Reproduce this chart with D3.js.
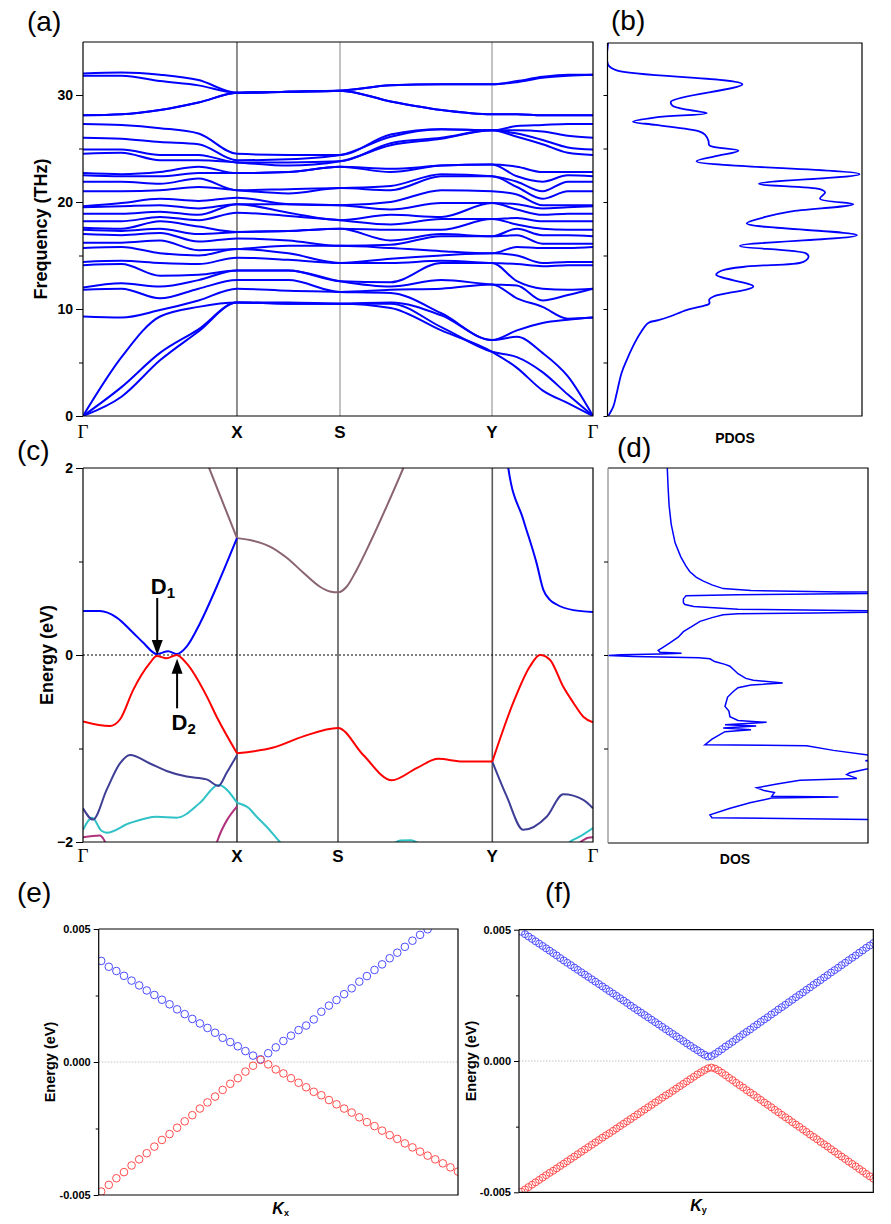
<!DOCTYPE html>
<html>
<head>
<meta charset="utf-8">
<script src="https://cdn.jsdelivr.net/npm/d3@7"></script>
<style>
  body { margin: 0; background: #fff; }
  svg { display: block; }
</style>
</head>
<body>
<script>
// ---------- data ----------
var symLabels = ["Γ", "X", "S", "Y", "Γ"];
var symK_ph = [0, 1, 1.669, 2.656, 3.312];   // phonon path
var symK_el = [0, 1, 1.656, 2.658, 3.312];   // electron path

// phonon frequencies (THz), band-sorted, sampled at phK
var phK = [0, 0.25, 0.5, 0.75, 1, 1.334, 1.669, 1.998, 2.327, 2.656, 2.818, 2.984, 3.149, 3.312];
var freqG   = [0,0,0,9.3,11.8,12.0,14.1,14.4,15.7,16.2,17.0,17.4,17.6,18.2,18.9,19.5,19.6,21.0,21.9,22.5,22.7,24.5,24.9,26.0,27.3,28.1,28.1,31.8,32.0];
var freqGX1 = [1.8,2.7,5.5,9.2,11.9,12.4,14.2,14.5,15.8,16.2,16.9,17.3,17.5,18.2,18.9,19.6,19.9,21.0,21.9,22.4,22.6,24.6,24.9,25.9,27.2,28.2,28.2,31.8,32.1];
var freqGX2 = [5.2,5.9,9.3,9.9,11.0,12.1,13.1,14.3,15.2,16.4,17.1,17.5,18.2,18.6,19.1,19.7,20.3,21.1,21.7,22.4,22.8,23.9,24.4,25.6,26.9,28.6,28.6,31.3,31.9];
var freqGX3 = [7.9,8.1,10.2,10.8,11.9,12.7,13.2,14.2,15.0,15.5,16.3,17.0,17.7,18.3,18.8,19.4,20.1,21.4,22.2,22.7,23.3,23.9,24.4,25.4,26.4,29.3,29.3,30.9,31.4];
var freqX   = [10.6,10.6,10.6,11.9,12.7,13.6,13.6,14.8,15.6,15.6,16.6,17.2,17.2,19.0,19.8,19.8,20.4,21.1,21.1,22.7,22.7,23.7,23.7,23.9,24.5,30.2,30.2,30.2,30.2];
var freqXS  = [10.5,10.5,10.6,11.7,12.7,13.6,13.6,14.6,15.2,15.9,16.4,17.3,17.3,18.7,19.0,19.8,19.8,20.8,21.2,22.8,22.8,23.4,23.7,24.0,24.4,30.3,30.3,30.3,30.3];
var freqS   = [10.5,10.5,10.5,11.6,11.6,12.6,12.6,14.3,14.3,15.9,15.9,17.5,17.5,18.3,18.3,19.7,19.7,21.3,21.3,23.3,23.3,23.8,23.8,24.4,24.4,30.4,30.4,30.4,30.4];
var freqSY1 = [10.1,10.5,10.6,11.5,11.8,12.1,12.5,14.3,14.7,15.7,16.0,16.4,17.4,17.9,18.8,19.3,20.0,21.1,21.5,22.8,23.1,25.3,25.5,26.1,26.3,29.4,29.4,30.9,30.9];
var freqSY2 = [8.0,8.3,9.4,9.6,11.9,12.7,14.3,14.5,15.0,15.4,16.8,17.0,17.4,18.4,18.6,19.9,21.1,22.4,22.6,23.4,23.4,25.9,26.0,26.8,26.8,28.6,28.6,31.0,31.0];
var freqY   = [6.0,6.0,7.1,7.1,12.3,12.3,14.3,14.3,15.2,15.2,16.8,16.8,18.4,18.4,19.9,19.9,21.0,22.4,22.4,23.5,23.5,26.7,26.7,26.7,26.7,28.2,28.2,31.0,31.0];
var freqYG1 = [4.5,5.5,7.4,8.0,11.0,12.2,12.6,14.2,15.0,15.8,16.9,17.5,17.9,18.5,19.3,19.8,20.7,21.4,21.9,22.4,23.3,26.1,26.4,26.7,27.1,28.2,28.2,31.2,31.3];
var freqYG2 = [2.4,4.1,5.9,8.7,10.2,10.8,11.9,14.0,14.3,15.7,16.1,16.9,17.5,18.2,18.8,19.4,19.7,20.3,21.0,21.9,22.8,25.4,25.8,26.6,27.2,28.1,28.1,31.6,31.7];
var freqYG3 = [1.2,2.0,3.7,9.0,9.1,11.3,11.8,14.1,14.4,15.7,16.1,16.9,17.4,18.2,18.9,19.5,19.7,21.0,21.9,22.5,22.8,24.6,25.1,26.2,27.3,28.1,28.1,31.8,31.9];
var freqG2  = [0,0,0,9.2,9.2,11.9,11.9,14.1,14.4,15.8,16.1,16.8,17.4,18.2,18.9,19.6,19.7,21.0,21.9,22.4,22.8,24.4,24.9,26.0,27.3,28.1,28.1,31.9,31.9];

// phonon DOS (b)
var pdosFreq = [0,0.9,2.1,4.0,5.2,6.5,7.7,8.7,8.95,9.3,9.9,10.2,10.5,10.9,11.2,12.1,13.2,13.6,14.0,14.4,14.9,15.2,15.9,16.9,18.0,18.6,19.1,19.8,20.3,20.9,21.2,21.7,22.6,23.8,24.3,24.8,25.3,25.7,26.3,26.6,27.2,27.5,27.9,28.3,28.6,29.0,29.4,31.0,32.3,32.8,35];
var pdosVal  = [0.003,0.023,0.036,0.055,0.075,0.10,0.128,0.16,0.20,0.245,0.31,0.36,0.40,0.40,0.42,0.573,0.427,0.45,0.56,0.77,0.79,0.78,0.52,0.98,0.547,0.62,0.717,0.966,0.835,0.855,0.835,0.595,0.99,0.35,0.43,0.514,0.40,0.397,0.383,0.36,0.19,0.10,0.19,0.39,0.32,0.255,0.25,0.53,0.036,0.003,0.003];

// electronic bands (c): k along path, energy in eV
var cbGX_k = [0, 0.11, 0.219, 0.327, 0.392, 0.479, 0.554, 0.608, 0.673, 0.760, 0.868, 1.0];
var cbGX_e = [0.47, 0.47, 0.40, 0.235, 0.13, 0.01, 0.04, 0.01, 0.09, 0.34, 0.73, 1.25];
var cbYG_k = [2.74, 2.762, 2.859, 2.946, 2.989, 3.032, 3.076, 3.184, 3.312];
var cbYG_e = [2.3, 2.0, 1.45, 0.98, 0.70, 0.59, 0.54, 0.48, 0.46];
var c2GX_k = [0.79, 1.0];
var c2GX_e = [2.12, 1.25];
var c2XSY_k = [1.0, 1.084, 1.214, 1.323, 1.431, 1.539, 1.604, 1.656, 1.712, 1.777, 1.864, 1.972, 2.08, 2.10];
var c2XSY_e = [1.25, 1.23, 1.16, 1.04, 0.88, 0.73, 0.68, 0.67, 0.73, 0.91, 1.20, 1.59, 2.0, 2.08];
var vbGX_k = [0, 0.175, 0.24, 0.327, 0.435, 0.479, 0.543, 0.608, 0.673, 0.803, 0.868, 1.0];
var vbGX_e = [-0.71, -0.76, -0.69, -0.37, -0.085, -0.01, -0.035, 0.0, -0.09, -0.44, -0.66, -1.05];
var vbXSY_k = [1.0, 1.236, 1.431, 1.656, 1.82, 2.005, 2.167, 2.307, 2.469, 2.658];
var vbXSY_e = [-1.05, -0.99, -0.87, -0.78, -1.07, -1.34, -1.21, -1.11, -1.14, -1.14];
var vbYG_k = [2.658, 2.794, 2.903, 2.968, 3.032, 3.119, 3.184, 3.249, 3.312];
var vbYG_e = [-1.14, -0.51, -0.12, 0.0, -0.05, -0.34, -0.51, -0.66, -0.72];
var v2GX_k = [0, 0.065, 0.154, 0.240, 0.305, 0.435, 0.543, 0.673, 0.803, 0.879, 0.933, 1.0];
var v2GX_e = [-1.64, -1.76, -1.44, -1.16, -1.07, -1.16, -1.24, -1.30, -1.33, -1.40, -1.26, -1.07];
var v2YG_k = [2.658, 2.751, 2.859, 3.011, 3.119, 3.249, 3.312];
var v2YG_e = [-1.14, -1.51, -1.87, -1.73, -1.49, -1.55, -1.64];
var v3GX_k = [0, 0.06, 0.12, 0.154, 0.30, 0.479, 0.608, 0.76, 0.879, 1.0];
var v3GX_e = [-1.87, -1.74, -1.88, -1.90, -1.80, -1.73, -1.74, -1.58, -1.39, -1.58];
var v3XS_k = [1.0, 1.078, 1.128, 1.2, 1.279, 1.35];
var v3XS_e = [-1.58, -1.64, -1.73, -1.85, -2.0, -2.12];
var v3SY_k = [2.0, 2.06, 2.13, 2.19];
var v3SY_e = [-2.04, -1.985, -1.98, -2.03];
var v3YG_k = [3.12, 3.16, 3.227, 3.312];
var v3YG_e = [-2.05, -2.0, -1.94, -1.85];
var v4G_k = [0, 0.11, 0.13, 0.16];
var v4G_e = [-1.95, -1.93, -1.96, -2.06];
var v4X_k = [0.85, 0.87, 1.0];
var v4X_e = [-2.1, -2.0, -1.62];
var v4G2_k = [3.2, 3.249, 3.28, 3.312];
var v4G2_e = [-2.05, -1.98, -1.955, -1.95];

// electronic DOS (d)
var dosE = [2.0,1.8,1.6,1.4,1.2,1.05,0.95,0.89,0.83,0.79,0.75,0.71,0.69,0.675,0.67,0.655,0.645,0.635,0.60,0.56,0.54,0.52,0.49,0.465,0.45,0.44,0.43,0.40,0.36,0.30,0.25,0.19,0.13,0.08,0.05,0.03,0.02,0.012,0.003,-0.005,-0.015,-0.03,-0.04,-0.07,-0.10,-0.12,-0.20,-0.25,-0.27,-0.30,-0.32,-0.35,-0.39,-0.45,-0.50,-0.55,-0.60,-0.66,-0.70,-0.72,-0.745,-0.76,-0.78,-0.80,-0.82,-0.90,-0.96,-0.965,-0.97,-1.02,-1.07,-1.10,-1.13,-1.16,-1.22,-1.26,-1.28,-1.32,-1.34,-1.38,-1.42,-1.45,-1.47,-1.51,-1.52,-1.53,-1.58,-1.64,-1.71,-1.74,-1.76,-1.77,-2.0];
var dosVal = [0.228,0.231,0.235,0.243,0.258,0.28,0.30,0.315,0.34,0.367,0.40,0.443,0.55,0.9,1.3,0.9,0.5,0.30,0.29,0.29,0.296,0.33,0.50,1.3,0.8,0.5,0.443,0.40,0.354,0.32,0.29,0.27,0.238,0.21,0.193,0.20,0.283,0.20,0.05,0.001,0.10,0.35,0.392,0.41,0.45,0.469,0.50,0.53,0.559,0.672,0.55,0.50,0.482,0.46,0.455,0.45,0.465,0.469,0.50,0.61,0.45,0.57,0.443,0.55,0.45,0.40,0.373,0.60,0.764,0.867,1.0,1.05,0.99,1.1,0.995,0.93,0.918,0.957,0.738,0.65,0.572,0.60,0.64,0.63,0.886,0.63,0.546,0.47,0.392,0.40,1.0,1.4,1.4];

// (e) dispersion along kx, energies in meV
var eBlueKx = [3.80,3.58,3.42,3.24,3.06,2.88,2.69,2.52,2.34,2.17,1.98,1.80,1.62,1.45,1.28,1.10,0.91,0.75,0.59,0.41,0.24,0.10,0.33,0.55,0.79,0.99,1.20,1.37,1.60,1.89,2.12,2.33,2.55,2.77,3.02,3.23,3.46,3.67,3.90,4.11,4.33,4.56,4.78,4.99];
var eRedKx  = [-4.87,-4.62,-4.37,-4.14,-3.89,-3.66,-3.43,-3.18,-2.93,-2.71,-2.47,-2.23,-2.00,-1.75,-1.52,-1.30,-1.05,-0.82,-0.61,-0.36,-0.14,0.08,-0.09,-0.28,-0.43,-0.61,-0.78,-0.95,-1.12,-1.25,-1.43,-1.59,-1.75,-1.90,-2.08,-2.26,-2.41,-2.58,-2.75,-2.89,-3.06,-3.21,-3.37,-3.52,-3.66,-3.81,-3.96,-4.12];

// (f) dispersion along ky, energies in meV
var eBlueKy = [4.92,4.83,4.74,4.65,4.56,4.47,4.38,4.29,4.20,4.11,4.02,3.92,3.83,3.74,3.65,3.56,3.47,3.38,3.29,3.20,3.11,3.02,2.93,2.84,2.75,2.66,2.57,2.48,2.39,2.30,2.21,2.11,2.02,1.93,1.84,1.75,1.66,1.57,1.48,1.39,1.30,1.21,1.12,1.03,0.94,0.85,0.76,0.67,0.58,0.49,0.41,0.32,0.24,0.17,0.19,0.27,0.36,0.45,0.55,0.64,0.73,0.83,0.92,1.02,1.11,1.20,1.30,1.39,1.49,1.58,1.67,1.77,1.86,1.96,2.05,2.14,2.24,2.33,2.43,2.52,2.61,2.71,2.80,2.90,2.99,3.08,3.18,3.27,3.37,3.46,3.55,3.65,3.74,3.84,3.93,4.02,4.12,4.21,4.31,4.40,4.49];
var eRedKy  = [-4.98,-4.89,-4.80,-4.71,-4.62,-4.53,-4.44,-4.35,-4.26,-4.18,-4.09,-4.00,-3.91,-3.82,-3.73,-3.64,-3.55,-3.46,-3.37,-3.28,-3.19,-3.10,-3.01,-2.92,-2.83,-2.75,-2.66,-2.57,-2.48,-2.39,-2.30,-2.21,-2.12,-2.03,-1.94,-1.85,-1.76,-1.67,-1.58,-1.49,-1.40,-1.31,-1.23,-1.14,-1.05,-0.96,-0.87,-0.78,-0.69,-0.60,-0.51,-0.43,-0.35,-0.28,-0.25,-0.29,-0.36,-0.45,-0.54,-0.64,-0.73,-0.83,-0.92,-1.01,-1.11,-1.20,-1.29,-1.39,-1.48,-1.58,-1.67,-1.76,-1.86,-1.95,-2.05,-2.14,-2.23,-2.33,-2.42,-2.51,-2.61,-2.70,-2.80,-2.89,-2.98,-3.08,-3.17,-3.26,-3.36,-3.45,-3.55,-3.64,-3.73,-3.83,-3.92,-4.01,-4.11,-4.20,-4.30,-4.39,-4.48];

// ---------- drawing ----------
var SANS = "'Liberation Sans', Arial, sans-serif";
var SERIF = "'Liberation Serif', 'Times New Roman', serif";
var BLUE = "#0000ff";

var svg = d3.select("body").append("svg").attr("width", 891).attr("height", 1224);
var defs = svg.append("defs");

function clipRect(id, x0, y0, x1, y1) {
  defs.append("clipPath").attr("id", id).append("rect")
    .attr("x", x0).attr("y", y0).attr("width", x1 - x0).attr("height", y1 - y0);
  return "url(#" + id + ")";
}

function frame(x0, y0, x1, y1, leftColor) {
  var g = svg.append("g").attr("fill", "none").attr("stroke-width", 1.2);
  g.append("path").attr("stroke", "#000")
    .attr("d", "M" + x0 + "," + y0 + "H" + x1 + "V" + y1 + "H" + x0);
  g.append("line").attr("stroke", leftColor || "#000")
    .attr("x1", x0).attr("x2", x0).attr("y1", y0).attr("y2", y1);
}

function leftTicks(scale, x, values, len, labels, fontSize, fmt) {
  var ax = d3.axisLeft(scale).tickValues(values).tickSize(len).tickPadding(3)
    .tickFormat(labels ? fmt : "");
  var g = svg.append("g").attr("transform", "translate(" + x + ",0)").call(ax);
  g.select(".domain").remove();
  g.attr("font-family", SANS).attr("font-size", fontSize || 10).attr("font-weight", "bold");
  g.selectAll("text").attr("fill", "#000");
  return g;
}

function panelLetter(txt, x, y) {
  svg.append("text").attr("x", x).attr("y", y).attr("font-family", SANS)
    .attr("font-size", 28).text(txt);
}

function yTitle(txt, x, y, size) {
  svg.append("text").attr("transform", "translate(" + x + "," + y + ") rotate(-90)")
    .attr("text-anchor", "middle").attr("font-family", SANS).attr("font-weight", "bold")
    .attr("font-size", size).text(txt);
}

// ===== (a) phonon dispersion =====
var xK = d3.scaleLinear().domain([0, 3.312]).range([83, 593]);
var yF = d3.scaleLinear().domain([0, 35]).range([416, 41.5]);

var gA = svg.append("g").attr("clip-path", clipRect("clipA", 83, 42, 593, 416));
symK_ph.slice(1, 4).forEach(function (k, i) {
  gA.append("line").attr("x1", xK(k)).attr("x2", xK(k)).attr("y1", 42).attr("y2", 416)
    .attr("stroke", i === 0 ? "#444" : "#9a9a9a").attr("stroke-width", 1.2);
});
var phCols = [freqG, freqGX1, freqGX2, freqGX3, freqX, freqXS, freqS, freqSY1, freqSY2, freqY, freqYG1, freqYG2, freqYG3, freqG2];
var phBands = d3.range(freqG.length).map(function (b) {
  return phCols.map(function (col, j) { return [phK[j], col[b]]; });
});
var phLine = d3.line().x(function (d) { return xK(d[0]); }).y(function (d) { return yF(d[1]); })
  .curve(d3.curveMonotoneX);
gA.selectAll("path.band").data(phBands).enter().append("path")
  .attr("d", phLine).attr("fill", "none").attr("stroke", BLUE).attr("stroke-width", 2);
frame(83, 42, 593, 416);
leftTicks(yF, 83, [0, 10, 20, 30], 7, true, 14, d3.format("d"));
leftTicks(yF, 83, [5, 15, 25], 4, false);
yTitle("Frequency (THz)", 47, 229, 18);

function kLabels(pos, y) {
  symLabels.forEach(function (s, i) {
    var isG = s === "Γ";
    svg.append("text").attr("x", xK(pos[i])).attr("y", y).attr("text-anchor", "middle")
      .attr("font-family", isG ? SERIF : SANS).attr("font-weight", isG ? "normal" : "bold")
      .attr("font-size", isG ? 19 : 17).text(s);
  });
}
kLabels(symK_ph, 438);
panelLetter("(a)", 27, 31);

// ===== (b) phonon DOS =====
var xP = d3.scaleLinear().domain([0, 1]).range([607.5, 862]);
var gB = svg.append("g").attr("clip-path", clipRect("clipB", 607.5, 43, 862, 416));
var pdosLine = d3.line().x(function (d) { return xP(d[0]); }).y(function (d) { return yF(d[1]); })
  .curve(d3.curveCatmullRom.alpha(0.5));
gB.append("path").datum(pdosVal.map(function (v, i) { return [v, pdosFreq[i]]; }))
  .attr("d", pdosLine).attr("fill", "none").attr("stroke", BLUE).attr("stroke-width", 1.8);
frame(607.5, 43, 862, 416);
leftTicks(yF, 607.5, [0, 5, 10, 15, 20, 25, 30], 4, false);
svg.append("text").attr("x", 735).attr("y", 443).attr("text-anchor", "middle")
  .attr("font-family", SANS).attr("font-weight", "bold").attr("font-size", 14).text("PDOS");
panelLetter("(b)", 611, 30);

// ===== (c) electronic bands =====
var yE = d3.scaleLinear().domain([-2, 2]).range([842, 468]);
var gC = svg.append("g").attr("clip-path", clipRect("clipC", 83, 468, 593, 842));
symK_el.slice(1, 4).forEach(function (k, i) {
  gC.append("line").attr("x1", xK(k)).attr("x2", xK(k)).attr("y1", 468).attr("y2", 842)
    .attr("stroke", i === 0 ? "#000" : "#5a5a5a").attr("stroke-width", i === 0 ? 1.2 : 1.6);
});
gC.append("line").attr("x1", 83).attr("x2", 593).attr("y1", yE(0)).attr("y2", yE(0))
  .attr("stroke", "#000").attr("stroke-width", 1).attr("stroke-dasharray", "2,2");

var BROWN = "#8a6470", SLATE = "#3e3e96", CYAN = "#30c2c6", MAG = "#b0307c", RED = "#ff0000";
var elBands = [
  [v4G_k, v4G_e, MAG], [v4X_k, v4X_e, MAG], [v4G2_k, v4G2_e, MAG],
  [v3GX_k, v3GX_e, CYAN], [v3XS_k, v3XS_e, CYAN], [v3SY_k, v3SY_e, CYAN], [v3YG_k, v3YG_e, CYAN],
  [v2GX_k, v2GX_e, SLATE], [v2YG_k, v2YG_e, SLATE],
  [c2GX_k, c2GX_e, BROWN], [c2XSY_k, c2XSY_e, BROWN],
  [cbGX_k, cbGX_e, BLUE], [cbYG_k, cbYG_e, BLUE],
  [vbGX_k, vbGX_e, RED], [vbXSY_k, vbXSY_e, RED], [vbYG_k, vbYG_e, RED]
];
var elLine = d3.line().x(function (d) { return xK(d[0]); }).y(function (d) { return yE(d[1]); })
  .curve(d3.curveMonotoneX);
elBands.forEach(function (b) {
  gC.append("path").datum(b[0].map(function (k, i) { return [k, b[1][i]]; }))
    .attr("d", elLine).attr("fill", "none").attr("stroke", b[2]).attr("stroke-width", 2);
});
frame(83, 468, 593, 842);
leftTicks(yE, 83, [-2, 0, 2], 7, true, 14, d3.format("d"));
leftTicks(yE, 83, [-1, 1], 4, false);
yTitle("Energy (eV)", 53, 655, 18);
kLabels(symK_el, 862);
panelLetter("(c)", 17, 460);

// Dirac point arrows
function arrow(k, eTail, eTip) {
  var x = xK(k), y0 = yE(eTail), y1 = yE(eTip), dir = y1 > y0 ? 1 : -1;
  svg.append("line").attr("x1", x).attr("x2", x).attr("y1", y0).attr("y2", y1 - dir * 12)
    .attr("stroke", "#000").attr("stroke-width", 2);
  svg.append("path").attr("fill", "#000")
    .attr("d", "M" + x + "," + y1 + "L" + (x - 5.5) + "," + (y1 - dir * 15) + "L" + (x + 5.5) + "," + (y1 - dir * 15) + "Z");
}
arrow(0.482, 0.61, 0.0);
arrow(0.611, -0.57, -0.04);
function dLabel(x, y, sub) {
  var t = svg.append("text").attr("x", x).attr("y", y).attr("font-family", SANS)
    .attr("font-weight", "bold").attr("font-size", 22).text("D");
  t.append("tspan").attr("font-size", 15).attr("dy", 4).text(sub);
}
dLabel(xK(0.44), 594, "1");
dLabel(xK(0.575), 730, "2");

// ===== (d) electronic DOS =====
var xD = d3.scaleLinear().domain([0, 1]).range([608, 868]);
var gD = svg.append("g").attr("clip-path", clipRect("clipD", 608, 468, 868, 843));
gD.append("path").datum(dosVal.map(function (v, i) { return [v, dosE[i]]; }))
  .attr("d", d3.line().x(function (d) { return xD(d[0]); }).y(function (d) { return yE(d[1]); }))
  .attr("fill", "none").attr("stroke", BLUE).attr("stroke-width", 1.5);
frame(608, 468, 868, 843, "#8a8a8a");
leftTicks(yE, 608, [-1, 0, 1], 4, false);
svg.append("text").attr("x", 735).attr("y", 864).attr("text-anchor", "middle")
  .attr("font-family", SANS).attr("font-weight", "bold").attr("font-size", 14).text("DOS");
panelLetter("(d)", 617, 457);

// ===== (e), (f) zoomed dispersions =====
function zoomPanel(id, x0, y0, x1, y1, nK, blueVals, redVals, kLabel, kSub, titleX, letter, letterX, r) {
  var xs = d3.scaleLinear().domain([0, nK - 1]).range([x0 + 2.5, x1]);
  var ys = d3.scaleLinear().domain([-5, 5]).range([y1, y0]);
  var g = svg.append("g").attr("clip-path", clipRect(id, x0, y0, x1, y1));
  g.append("line").attr("x1", x0).attr("x2", x1).attr("y1", ys(0)).attr("y2", ys(0))
    .attr("stroke", "#b5b5b5").attr("stroke-width", 0.8).attr("stroke-dasharray", "1.5,1.5");
  g.selectAll("circle.b").data(blueVals).enter().append("circle")
    .attr("cx", function (d, i) { return xs(i); }).attr("cy", function (d) { return ys(d); })
    .attr("r", r).attr("fill", "none").attr("stroke", "#4b4bff").attr("stroke-width", 1);
  g.selectAll("circle.r").data(redVals).enter().append("circle")
    .attr("cx", function (d, i) { return xs(i); }).attr("cy", function (d) { return ys(d); })
    .attr("r", r).attr("fill", "none").attr("stroke", "#ff4b4b").attr("stroke-width", 1);
  frame(x0, y0, x1, y1);
  leftTicks(ys, x0, [-5, 0, 5], 5, true, 11, function (v) { return (v / 1000).toFixed(3); });
  leftTicks(ys, x0, [-2.5, 2.5], 3, false);
  yTitle("Energy (eV)", titleX, (y0 + y1) / 2, 14.5);
  var t = svg.append("text").attr("x", (x0 + x1) / 2 - 6).attr("y", y1 + 19)
    .attr("font-family", SANS).attr("font-weight", "bold").attr("font-style", "italic")
    .attr("font-size", 16).text(kLabel);
  t.append("tspan").attr("font-style", "normal").attr("font-size", 9).attr("dy", 2).text(kSub);
  panelLetter(letter, letterX, 902);
}
zoomPanel("clipE", 98.7, 929, 458, 1195, eRedKx.length, eBlueKx, eRedKx, "K", "x", 55, "(e)", 17, 3.8);
zoomPanel("clipF", 519, 929.7, 873.3, 1192.3, eRedKy.length, eBlueKy, eRedKy, "K", "y", 476, "(f)", 545, 3.5);
</script>
</body>
</html>
